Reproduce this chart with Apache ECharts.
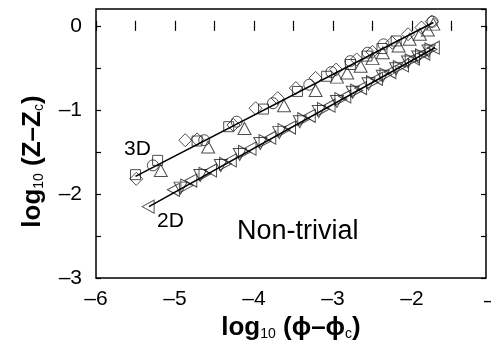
<!DOCTYPE html>
<html><head><meta charset="utf-8">
<script src="https://cdn.jsdelivr.net/npm/echarts@6/dist/echarts.min.js"></script>
<style>html,body{margin:0;padding:0;background:#fff}#c{width:491px;height:346px}</style>
</head><body><div id="c"></div>
<script>
var xTicks = [-6,-5,-4,-3,-2,-1];
var yTicks = [0,-1,-2,-3];
// 3D data
var sq3 = [[-5.50,-1.77],[-5.22,-1.60],[-4.72,-1.37],[-4.32,-1.20],[-3.88,-0.99],[-3.45,-0.78],[-3.08,-0.60],[-2.78,-0.46],[-2.57,-0.36],[-2.38,-0.27],[-2.20,-0.18]];
var ci3 = [[-5.28,-1.66],[-4.63,-1.36],[-4.22,-1.14],[-3.76,-0.92],[-3.30,-0.70],[-3.02,-0.55],[-2.78,-0.42],[-2.56,-0.32],[-2.36,-0.22],[-1.74,0.05]];
var di3 = [[-5.49,-1.82],[-4.87,-1.36],[-4.72,-1.35],[-4.26,-1.18],[-3.98,-0.98],[-3.70,-0.86],[-3.47,-0.74],[-3.22,-0.62],[-2.96,-0.52],[-2.70,-0.40],[-2.50,-0.31],[-2.25,-0.20],[-2.05,-0.10],[-1.88,-0.02],[-1.75,0.05]];
var tu3 = [[-5.18,-1.72],[-4.58,-1.44],[-4.12,-1.22],[-3.62,-0.95],[-3.22,-0.77],[-2.95,-0.61],[-2.82,-0.56],[-2.65,-0.48],[-2.50,-0.39],[-2.37,-0.32],[-2.17,-0.24],[-2.03,-0.16],[-1.90,-0.10],[-1.80,-0.05],[-1.73,0.02]];
// 2D data
var tl2 = [[-5.34,-2.15],[-5.02,-1.95],[-4.80,-1.84],[-4.55,-1.72],[-4.30,-1.60],[-4.05,-1.46],[-3.80,-1.33],[-3.55,-1.21],[-3.30,-1.07],[-3.05,-0.95],[-2.85,-0.84],[-2.65,-0.74],[-2.45,-0.63],[-2.28,-0.55],[-2.12,-0.47],[-1.98,-0.39],[-1.85,-0.33],[-1.73,-0.26]];
var td2 = [[-4.93,-1.93],[-4.68,-1.78],[-4.42,-1.66],[-4.18,-1.53],[-3.92,-1.40],[-3.68,-1.27],[-3.42,-1.14],[-3.18,-1.02],[-2.95,-0.90],[-2.75,-0.79],[-2.55,-0.69],[-2.37,-0.60],[-2.20,-0.51],[-2.05,-0.43],[-1.92,-0.37],[-1.79,-0.30]];
var tr2 = [[-4.85,-1.90],[-4.62,-1.76],[-4.36,-1.64],[-4.12,-1.50],[-3.86,-1.37],[-3.62,-1.24],[-3.37,-1.11],[-3.12,-0.99],[-2.90,-0.87],[-2.70,-0.77],[-2.50,-0.67],[-2.33,-0.58],[-2.16,-0.49],[-2.01,-0.41],[-1.88,-0.35],[-1.76,-0.28]];
// fit lines
var fit3 = [[-5.50,-1.79],[-1.73,0.04]];
var fit2 = [[-5.33,-2.15],[-1.71,-0.26]];

var FONT = '"Liberation Sans", Arial, Helvetica, sans-serif';
function fmt(v){ if (Math.abs(v - Math.round(v)) > 1e-6) return ''; var r = Math.round(v); return r < 0 ? '\u2013' + (-r) : String(r); }
function sc(name, data, sym, size, rot){
  return {type:'scatter', name:name, data:data, symbol:sym, symbolSize:size, symbolRotate:rot||0,
    itemStyle:{color:'rgba(0,0,0,0)', borderColor:'#222', borderWidth:1}, z:3, silent:true};
}
var chart = echarts.init(document.getElementById('c'), null, {renderer:'canvas'});
chart.setOption({
  animation:false,
  backgroundColor:'#fff',
  grid:{left:96, top:9, right:5, bottom:65, show:true, borderColor:'#000', borderWidth:1.5, backgroundColor:'#fff'},
  xAxis:[{
    type:'value', min:-6, max:-1.063, interval:0.5, position:'bottom',
    axisLine:{show:false}, splitLine:{show:false},
    axisTick:{inside:true, length:5, lineStyle:{color:'#000', width:1.2}},
    axisLabel:{formatter:fmt, fontSize:21, color:'#000', fontFamily:FONT, margin:11, showMaxLabel:false},
    name:'{b|log}{s|10}{b| (\u03d5\u2013\u03d5}{s|c}{b|)}', nameLocation:'middle', nameGap:33,
    nameTextStyle:{rich:{
      b:{fontSize:26, fontWeight:'bold', fontFamily:FONT, color:'#000'},
      s:{fontSize:14, fontFamily:FONT, color:'#000', padding:[12,0,0,0]}
    }}
  },{
    type:'value', min:-6, max:-1.063, interval:0.5, position:'top',
    axisLine:{show:false}, splitLine:{show:false}, axisLabel:{show:false},
    axisTick:{inside:true, length:5, lineStyle:{color:'#000', width:1.2}}
  }],
  yAxis:[{
    type:'value', min:-3, max:0.2, interval:0.5, position:'left',
    axisLine:{show:false}, splitLine:{show:false},
    axisTick:{inside:true, length:5, lineStyle:{color:'#000', width:1.2}},
    axisLabel:{formatter:fmt, fontSize:21, color:'#000', fontFamily:FONT, margin:14, showMaxLabel:false},
    name:'{b|log}{s|10}{b| (Z\u2013Z}{s|c}{b|)}', nameLocation:'middle', nameGap:50, nameRotate:90,
    nameTextStyle:{padding:[0,36,0,0], rich:{
      b:{fontSize:26, fontWeight:'bold', fontFamily:FONT, color:'#000'},
      s:{fontSize:14, fontFamily:FONT, color:'#000', padding:[12,0,0,0]}
    }}
  },{
    type:'value', min:-3, max:0.2, interval:0.5, position:'right',
    axisLine:{show:false}, splitLine:{show:false}, axisLabel:{show:false},
    axisTick:{inside:true, length:5, lineStyle:{color:'#000', width:1.2}}
  }],
  graphic:[
    {type:'text', left:124, top:139, style:{text:'3D', font:'21px ' + FONT, fill:'#000'}},
    {type:'text', left:157, top:211, style:{text:'2D', font:'21px ' + FONT, fill:'#000'}},
    {type:'text', left:237, top:218, style:{text:'Non-trivial', font:'27px ' + FONT, fill:'#000'}},
    {type:'text', left:484, top:291, style:{text:'\u20131', font:'21px ' + FONT, fill:'#000'}}
  ],
  series:[
    {type:'line', data:fit3, symbol:'none', lineStyle:{color:'#000', width:1.6}, z:4, silent:true},
    {type:'line', data:fit2, symbol:'none', lineStyle:{color:'#000', width:1.6}, z:4, silent:true},
    sc('sq3', sq3, 'rect', 10),
    sc('ci3', ci3, 'circle', 11),
    sc('di3', di3, 'diamond', [13,13]),
    sc('tu3', tu3, 'triangle', [13,12]),
    sc('tl2', tl2, 'triangle', [13,12], 90),
    sc('td2', td2, 'triangle', [13,12], 180),
    sc('tr2', tr2, 'triangle', [13,12], -90)
  ]
});
</script></body></html>
